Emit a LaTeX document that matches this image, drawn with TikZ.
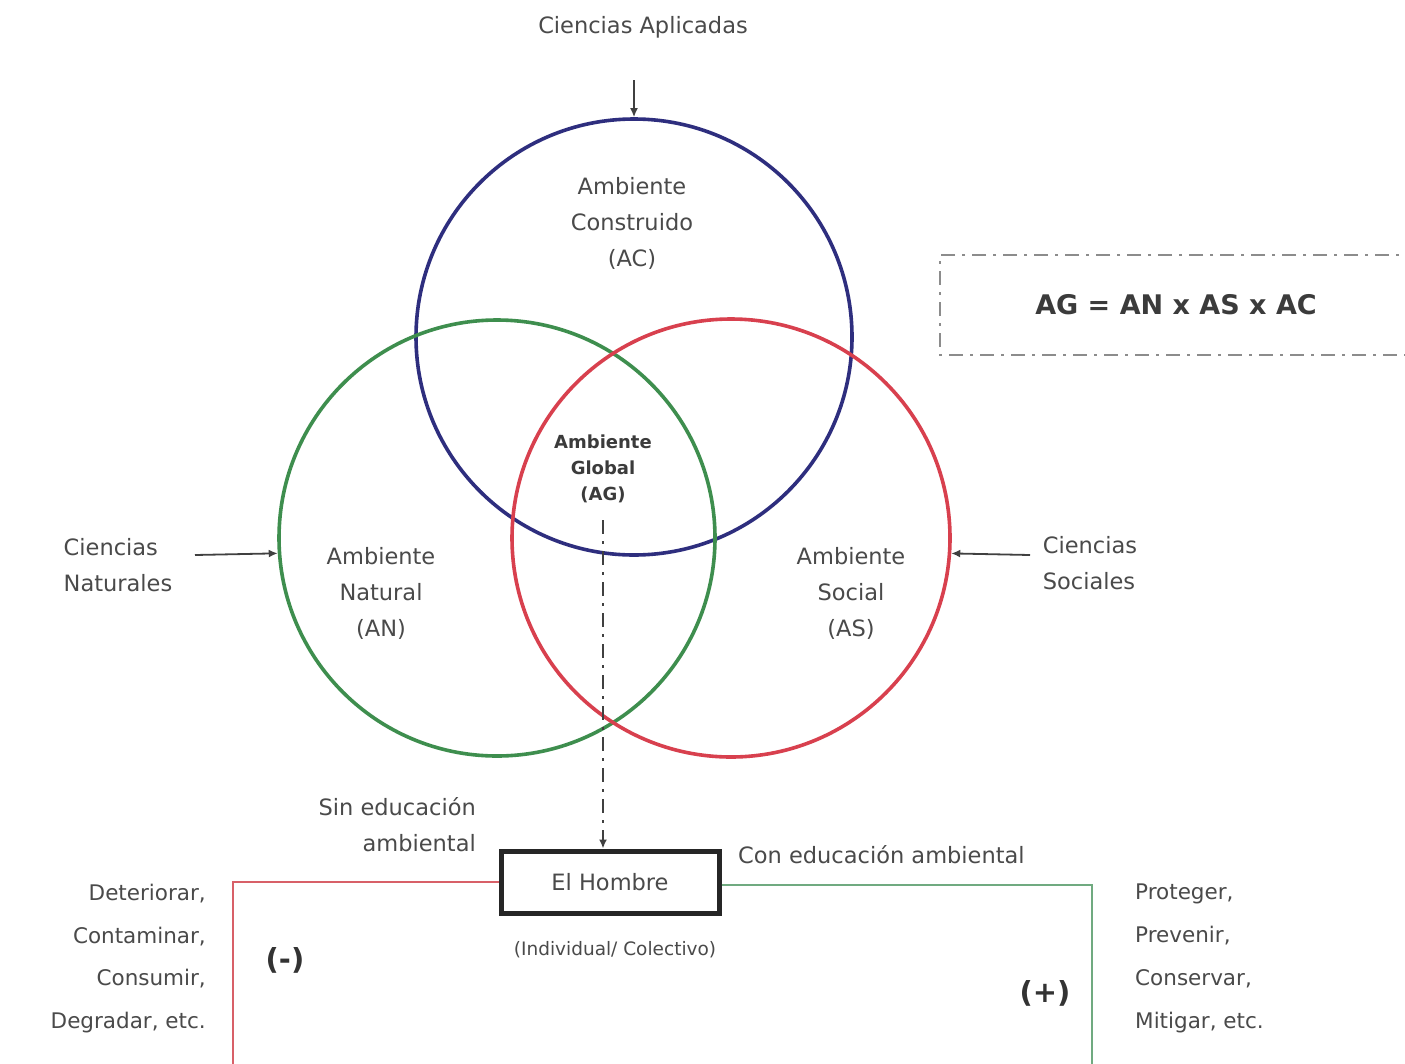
\documentclass[tikz,border=0pt]{standalone}
\usepackage{fontspec}
\setmainfont{DejaVu Sans}
\usetikzlibrary{arrows.meta}
\definecolor{txt}{HTML}{4A4A4A}
\definecolor{acblue}{HTML}{2E2E7E}
\definecolor{angreen}{HTML}{3E8E4E}
\definecolor{asred}{HTML}{D8404E}
\definecolor{lnred}{HTML}{D86068}
\definecolor{lngreen}{HTML}{70AA80}
\begin{document}
\begin{tikzpicture}[x=1pt,y=-1pt,
  lbl/.style={text=txt,font=\fontsize{22.5}{36}\selectfont,align=center,inner sep=0pt},
  lblsmall/.style={text=txt,font=\fontsize{18.5}{20}\selectfont,inner sep=0pt},
  bold/.style={text=txt!80!black,font=\bfseries\fontsize{18}{26}\selectfont,align=center,inner sep=0pt},
  ring/.style={circle,draw,line width=3.6pt,inner sep=0pt,minimum size=#1},
  arr/.style={line width=1.8pt,draw=black!75,-{Latex[length=9pt,width=8pt]}},
  dashdot/.style={dash pattern=on 14pt off 7pt on 3pt off 7pt}]
\useasboundingbox (0,0) rectangle (1405,1063);
\fill[white] (0,0) rectangle (1405,1063);

% the three environments
\node[ring=436pt,draw=acblue] (AC) at (634,337) {};
\node[ring=436pt,draw=angreen] (AN) at (497,538) {};
\node[ring=438pt,draw=asred] (AS) at (731,538) {};

\node[lbl] (actxt) at (632,223) {Ambiente\\Construido\\(AC)};
\node[lbl] (antxt) at (381,593) {Ambiente\\Natural\\(AN)};
\node[lbl] (astxt) at (851,593) {Ambiente\\Social\\(AS)};
\node[bold] (agtxt) at (603,469) {Ambiente\\Global\\(AG)};

% sciences feeding each environment
\node[lbl] (aplic) at (643,27) {Ciencias Aplicadas};
\coordinate (aplicin) at (634,80);
\draw[arr] (aplicin) -- (AC.north);

\node[lbl,align=left] (natlab) at (118,565) {Ciencias\\Naturales};
\coordinate (natin) at (195,555);
\draw[arr] (natin) -- (AN.184.5);

\node[lbl,align=left] (soclab) at (1090,563) {Ciencias\\Sociales};
\coordinate (socin) at (1030,555);
\draw[arr] (socin) -- (AS.-4.5);

% formula box
\draw[draw=black!45,line width=2pt,dashdot] (1420,255) -- (940,255) -- (940,355) -- (1420,355);
\node[text=txt!80!black,font=\bfseries\fontsize{27}{30}\selectfont,inner sep=0pt] (formula) at (1176,305) {AG = AN x AS x AC};

% man
\node[draw=black!85,line width=5pt,minimum width=218pt,minimum height=62pt,inner sep=0pt,
      text=txt,font=\fontsize{22.5}{26}\selectfont] (hombre) at (610,882) {El Hombre};
\node[lblsmall] (indiv) at (615,950) {(Individual/ Colectivo)};
\coordinate (agdown) at (603,520);
\draw[arr,dashdot,line width=1.8pt] (agdown) -- (agdown |- hombre.north);

\node[lbl,align=right,anchor=east] (sinedu) at (476,825) {Sin educación\\ambiental};
\node[lbl,anchor=west] (conedu) at (738,855) {Con educación ambiental};

% negative branch
\coordinate (leftend) at (233,1075);
\draw[draw=lnred,line width=2.8pt,-{Latex[length=10pt,width=8pt]}] (hombre.west) -| (leftend);
\node[text=black!80,font=\bfseries\fontsize{29}{30}\selectfont,inner sep=0pt] (neg) at (285,960) {(-)};
\node[lbl,align=right,anchor=north east,font=\fontsize{21.5}{42.5}\selectfont] (neglist) at (206,884)
  {Deteriorar,\\Contaminar,\\Consumir,\\Degradar, etc.};

% positive branch
\coordinate (rightend) at (1092,1075);
\draw[draw=lngreen,line width=2.8pt,-{Latex[length=10pt,width=8pt]}] (hombre.east |- 0,885) -| (rightend);
\node[text=black!80,font=\bfseries\fontsize{29}{30}\selectfont,inner sep=0pt] (pos) at (1045,993) {(+)};
\node[lbl,align=left,anchor=north west,font=\fontsize{21.5}{43}\selectfont] (poslist) at (1135,884)
  {Proteger,\\Prevenir,\\Conservar,\\Mitigar, etc.};
\end{tikzpicture}
\end{document}
